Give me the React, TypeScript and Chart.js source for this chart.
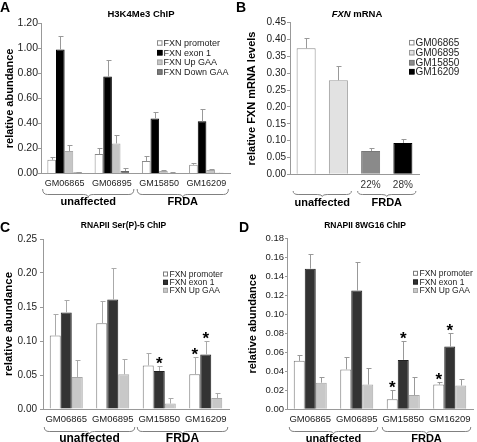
import React, { useEffect, useRef } from "react";
import { Chart, registerables } from "chart.js";
Chart.register(...registerables);

const FONT = "'Liberation Sans', Arial, Helvetica, sans-serif";

// ---------- shared categories ----------
const cellLines = ["GM06865", "GM06895", "GM15850", "GM16209"];
const groupNames = ["unaffected", "FRDA"];
const groupOfCell = [0, 0, 1, 1];

// ---------- Panel A: H3K4Me3 ChIP ----------
const aSeriesNames = ["FXN promoter", "FXN exon 1", "FXN Up GAA", "FXN Down GAA"];
const aPromoter = [0.11, 0.155, 0.1, 0.07];
const aPromoterErr = [0.024, 0.045, 0.04, 0.017];
const aExon1 = [0.99, 0.775, 0.44, 0.417];
const aExon1Err = [0.11, 0.13, 0.05, 0.1];
const aUpGAA = [0.18, 0.24, 0.02, 0.028];
const aUpGAAErr = [0.044, 0.07, 0.005, 0.006];
const aDownGAA = [0.01, 0.02, 0.006, 0.005];
const aDownGAAErr = [0.003, 0.023, 0.002, 0.002];

// ---------- Panel B: FXN mRNA ----------
const bMRNA = [0.374, 0.279, 0.069, 0.093];
const bMRNAErr = [0.032, 0.042, 0.009, 0.013];
const bPercent = ["", "", "22%", "28%"];

// ---------- Panel C: RNAPII Ser(P)-5 ChIP ----------
const cdSeriesNames = ["FXN promoter", "FXN exon 1", "FXN Up GAA"];
const cPromoter = [0.108, 0.126, 0.064, 0.051];
const cPromoterErr = [0.031, 0.033, 0.019, 0.026];
const cExon1 = [0.142, 0.161, 0.056, 0.08];
const cExon1Err = [0.019, 0.046, 0.007, 0.02];
const cUpGAA = [0.047, 0.051, 0.008, 0.016];
const cUpGAAErr = [0.025, 0.022, 0.008, 0.007];
const cPromoterSig = [false, false, false, true];
const cExon1Sig = [false, false, true, true];

// ---------- Panel D: RNAPII 8WG16 ChIP ----------
const dPromoter = [0.051, 0.042, 0.0105, 0.026];
const dPromoterErr = [0.006, 0.013, 0.0095, 0.003];
const dExon1 = [0.148, 0.125, 0.052, 0.066];
const dExon1Err = [0.0155, 0.03, 0.02, 0.014];
const dUpGAA = [0.028, 0.026, 0.015, 0.025];
const dUpGAAErr = [0.006, 0.018, 0.019, 0.007];
const dPromoterSig = [false, false, true, true];
const dExon1Sig = [false, false, true, true];

type Series = {
  label: string;
  values: number[];
  errors: number[];
  fill: string | string[];
  stroke: string | string[];
  sig?: boolean[];
};

type PanelSpec = {
  key: string;
  origin: [number, number];
  size: [number, number];
  area: { l: number; r: number; t: number; b: number };
  yMax: number;
  yStep: number;
  yTitle: string;
  yTitleX: number;
  yTitleSize: number;
  yTickSize: number;
  yTickLen: number;
  yTickPad: number;
  xTickSize: number;
  xTickPad: number;
  showXTicks: boolean;
  barPct: number;
  letter: { text: string; x: number; y: number };
  title: { parts: { text: string; italic?: boolean }[]; x: number; y: number; size: number };
  legend: { x: number; rows: number[]; box: number; size: number; textX: number; items: { label: string; fill: string; stroke: string }[] };
  errColor: string;
  braces: { yTop: number; yMid: number; yTip: number; labelY: number; labelSize: number; ext: number };
  series: Series[];
  sub?: { labels: string[]; y: number };
};

const WHITE = "#ffffff";
const colA = { fill: [WHITE, "#000000", "#c6c6c6", "#7c7c7c"], stroke: ["#8a8a8a", "#000000", "#a8a8a8", "#666666"] };
const colCD = { fill: [WHITE, "#333333", "#c8c8c8"], stroke: ["#7a7a7a", "#222222", "#a8a8a8"] };
const colB = { fill: [WHITE, "#e2e2e2", "#8a8a8a", "#000000"], stroke: ["#8a8a8a", "#9a9a9a", "#777777", "#000000"] };

const panels: PanelSpec[] = [
  {
    key: "A",
    origin: [0, 0],
    size: [236, 220],
    area: { l: 41, r: 230, t: 23.3, b: 173.5 },
    yMax: 1.2,
    yStep: 0.2,
    yTitle: "relative abundance",
    yTitleX: 9.5,
    yTitleSize: 11,
    yTickSize: 10.5,
    yTickLen: 3,
    yTickPad: 0,
    xTickSize: 9,
    xTickPad: 5,
    showXTicks: true,
    barPct: 0.73,
    letter: { text: "A", x: 0, y: 12 },
    title: { parts: [{ text: "H3K4Me3 ChIP" }], x: 141, y: 14, size: 9.5 },
    legend: {
      x: 157, rows: [43, 52.7, 62.3, 72], box: 5.5, size: 9, textX: 163.5,
      items: aSeriesNames.map((l, i) => ({ label: l, fill: colA.fill[i], stroke: colA.stroke[i] })),
    },
    errColor: "#999999",
    braces: { yTop: 189, yMid: 194.5, yTip: 197.5, labelY: 202, labelSize: 11, ext: 22 },
    series: [
      { label: aSeriesNames[0], values: aPromoter, errors: aPromoterErr, fill: colA.fill[0], stroke: colA.stroke[0] },
      { label: aSeriesNames[1], values: aExon1, errors: aExon1Err, fill: colA.fill[1], stroke: colA.stroke[1] },
      { label: aSeriesNames[2], values: aUpGAA, errors: aUpGAAErr, fill: colA.fill[2], stroke: colA.stroke[2] },
      { label: aSeriesNames[3], values: aDownGAA, errors: aDownGAAErr, fill: colA.fill[3], stroke: colA.stroke[3] },
    ],
  },
  {
    key: "B",
    origin: [232, 0],
    size: [245, 220],
    area: { l: 290, r: 419, t: 22.7, b: 174.3 },
    yMax: 0.45,
    yStep: 0.05,
    yTitle: "relative FXN mRNA levels",
    yTitleX: 252,
    yTitleSize: 11,
    yTickSize: 10,
    yTickLen: 3,
    yTickPad: 1,
    xTickSize: 9,
    xTickPad: 5,
    showXTicks: false,
    barPct: 0.59,
    letter: { text: "B", x: 236, y: 12 },
    title: { parts: [{ text: "FXN", italic: true }, { text: " mRNA" }], x: 357, y: 14, size: 9.5 },
    legend: {
      x: 409, rows: [42.7, 52.7, 62.7, 71.7], box: 5.5, size: 10, textX: 415.5,
      items: cellLines.map((l, i) => ({ label: l, fill: colB.fill[i], stroke: colB.stroke[i] })),
    },
    errColor: "#999999",
    braces: { yTop: 191, yMid: 194.5, yTip: 196.5, labelY: 203, labelSize: 11, ext: 13 },
    series: [{ label: "FXN mRNA", values: bMRNA, errors: bMRNAErr, fill: colB.fill, stroke: colB.stroke }],
    sub: { labels: bPercent, y: 185 },
  },
  {
    key: "C",
    origin: [0, 220],
    size: [236, 222],
    area: { l: 43, r: 229, t: 239, b: 409 },
    yMax: 0.25,
    yStep: 0.05,
    yTitle: "relative abundance",
    yTitleX: 9,
    yTitleSize: 11.5,
    yTickSize: 10,
    yTickLen: 3,
    yTickPad: 3,
    xTickSize: 9.5,
    xTickPad: 4.3,
    showXTicks: true,
    barPct: 0.71,
    letter: { text: "C", x: 0, y: 232 },
    title: { parts: [{ text: "RNAPII Ser(P)-5 ChIP" }], x: 123.5, y: 226, size: 8.5 },
    legend: {
      x: 163, rows: [274, 282.3, 290.3], box: 5, size: 8.5, textX: 169.5,
      items: cdSeriesNames.map((l, i) => ({ label: l, fill: colCD.fill[i], stroke: colCD.stroke[i] })),
    },
    errColor: "#aaaaaa",
    braces: { yTop: 427, yMid: 431.5, yTip: 434, labelY: 438.5, labelSize: 12, ext: 22 },
    series: [
      { label: cdSeriesNames[0], values: cPromoter, errors: cPromoterErr, fill: colCD.fill[0], stroke: colCD.stroke[0], sig: cPromoterSig },
      { label: cdSeriesNames[1], values: cExon1, errors: cExon1Err, fill: colCD.fill[1], stroke: colCD.stroke[1], sig: cExon1Sig },
      { label: cdSeriesNames[2], values: cUpGAA, errors: cUpGAAErr, fill: colCD.fill[2], stroke: colCD.stroke[2] },
    ],
  },
  {
    key: "D",
    origin: [232, 220],
    size: [245, 222],
    area: { l: 287, r: 473, t: 238.3, b: 409.3 },
    yMax: 0.18,
    yStep: 0.02,
    yTitle: "relative abundance",
    yTitleX: 252.5,
    yTitleSize: 11,
    yTickSize: 9.5,
    yTickLen: 2,
    yTickPad: 1,
    xTickSize: 9.5,
    xTickPad: 4.3,
    showXTicks: true,
    barPct: 0.71,
    letter: { text: "D", x: 239, y: 232 },
    title: { parts: [{ text: "RNAPII 8WG16 ChIP" }], x: 365, y: 226, size: 8.5 },
    legend: {
      x: 413, rows: [273.3, 282, 290.5], box: 5, size: 8.5, textX: 419.5,
      items: cdSeriesNames.map((l, i) => ({ label: l, fill: colCD.fill[i], stroke: colCD.stroke[i] })),
    },
    errColor: "#999999",
    braces: { yTop: 427, yMid: 431.5, yTip: 434, labelY: 438.5, labelSize: 11, ext: 21 },
    series: [
      { label: cdSeriesNames[0], values: dPromoter, errors: dPromoterErr, fill: colCD.fill[0], stroke: colCD.stroke[0], sig: dPromoterSig },
      { label: cdSeriesNames[1], values: dExon1, errors: dExon1Err, fill: colCD.fill[1], stroke: colCD.stroke[1], sig: dExon1Sig },
      { label: cdSeriesNames[2], values: dUpGAA, errors: dUpGAAErr, fill: colCD.fill[2], stroke: colCD.stroke[2] },
    ],
  },
];

function font(size: number, bold = false, italic = false) {
  return `${italic ? "italic " : ""}${bold ? "bold " : ""}${size}px ${FONT}`;
}

function drawBrace(ctx: CanvasRenderingContext2D, x0: number, x1: number, yTop: number, yMid: number, yTip: number) {
  const r = 5;
  const xc = (x0 + x1) / 2;
  ctx.beginPath();
  ctx.moveTo(x0, yTop);
  ctx.quadraticCurveTo(x0, yMid, x0 + r, yMid);
  ctx.lineTo(xc - r, yMid);
  ctx.quadraticCurveTo(xc, yMid, xc, yTip);
  ctx.quadraticCurveTo(xc, yMid, xc + r, yMid);
  ctx.lineTo(x1 - r, yMid);
  ctx.quadraticCurveTo(x1, yMid, x1, yTop);
  ctx.stroke();
}

function makePlugin(spec: PanelSpec) {
  const [ox, oy] = spec.origin;
  return {
    id: "decor" + spec.key,
    afterDatasetsDraw(chart: any) {
      const ctx: CanvasRenderingContext2D = chart.ctx;
      const ys = chart.scales.y;
      ctx.save();
      spec.series.forEach((s, d) => {
        const meta = chart.getDatasetMeta(d);
        s.values.forEach((v, i) => {
          const el = meta.data[i];
          if (!el) return;
          const x = Math.round(el.x) + 0.5;
          const yTop = Math.round(ys.getPixelForValue(v + s.errors[i])) + 0.5;
          ctx.strokeStyle = spec.errColor;
          ctx.lineWidth = 1;
          ctx.beginPath();
          ctx.moveTo(x, el.y);
          ctx.lineTo(x, yTop);
          ctx.moveTo(x - 2, yTop);
          ctx.lineTo(x + 3, yTop);
          ctx.stroke();
          if (s.sig && s.sig[i]) {
            ctx.fillStyle = "#000";
            ctx.font = font(17, true);
            ctx.textAlign = "center";
            ctx.textBaseline = "alphabetic";
            ctx.fillText("*", el.x, yTop - 7 + 9.8);
          }
        });
      });
      ctx.restore();
    },
    afterDraw(chart: any) {
      const ctx: CanvasRenderingContext2D = chart.ctx;
      const xs = chart.scales.x;
      ctx.save();
      ctx.translate(-ox, -oy);
      // panel letter
      ctx.fillStyle = "#000";
      ctx.font = font(14, true);
      ctx.textAlign = "left";
      ctx.textBaseline = "alphabetic";
      ctx.fillText(spec.letter.text, spec.letter.x, spec.letter.y);
      // title
      const t = spec.title;
      let total = 0;
      const widths = t.parts.map((p) => {
        ctx.font = font(t.size, true, !!p.italic);
        const w = ctx.measureText(p.text).width;
        total += w;
        return w;
      });
      let tx = t.x - total / 2;
      ctx.textBaseline = "middle";
      t.parts.forEach((p, i) => {
        ctx.font = font(t.size, true, !!p.italic);
        ctx.fillText(p.text, tx, t.y);
        tx += widths[i];
      });
      // legend
      const lg = spec.legend;
      lg.items.forEach((it, i) => {
        const yc = lg.rows[i];
        ctx.fillStyle = it.fill;
        ctx.fillRect(lg.x, yc - lg.box / 2, lg.box, lg.box);
        ctx.strokeStyle = it.stroke;
        ctx.lineWidth = 1;
        ctx.strokeRect(lg.x + 0.5, yc - lg.box / 2 + 0.5, lg.box - 1, lg.box - 1);
        ctx.fillStyle = "#222";
        ctx.font = font(lg.size);
        ctx.textAlign = "left";
        ctx.textBaseline = "middle";
        ctx.fillText(it.label, lg.textX, yc + 0.5);
      });
      const centers = cellLines.map((_, i) => xs.getPixelForValue(i) + ox);
      // sub labels (percentages)
      if (spec.sub) {
        ctx.fillStyle = "#333";
        ctx.font = font(10);
        ctx.textAlign = "center";
        ctx.textBaseline = "middle";
        spec.sub.labels.forEach((s, i) => {
          if (s) ctx.fillText(s, centers[i], spec.sub!.y);
        });
      }
      // braces + group labels
      const br = spec.braces;
      groupNames.forEach((g, gi) => {
        const idx = groupOfCell.map((v, i) => (v === gi ? i : -1)).filter((i) => i >= 0);
        const x0 = centers[idx[0]] - br.ext;
        const x1 = centers[idx[idx.length - 1]] + br.ext;
        ctx.strokeStyle = "#808080";
        ctx.lineWidth = 1;
        drawBrace(ctx, x0, x1, br.yTop, br.yMid, br.yTip);
        ctx.fillStyle = "#000";
        ctx.font = font(br.labelSize, true);
        ctx.textAlign = "center";
        ctx.textBaseline = "middle";
        ctx.fillText(g, (x0 + x1) / 2, br.labelY);
      });
      ctx.restore();
    },
  };
}

function buildConfig(spec: PanelSpec): any {
  const [ox, oy] = spec.origin;
  const [W, H] = spec.size;
  const a = spec.area;
  const datasets = spec.series.map((s) => ({
    label: s.label,
    data: s.values,
    backgroundColor: s.fill,
    borderColor: s.stroke,
    borderWidth: 1,
    borderSkipped: "bottom",
    categoryPercentage: spec.barPct,
    barPercentage: 1,
  }));
  return {
    type: "bar",
    data: { labels: cellLines, datasets },
    options: {
      responsive: false,
      animation: false,
      devicePixelRatio: 1,
      layout: { padding: { top: a.t - oy, right: ox + W - a.r, left: 0, bottom: 0 } },
      plugins: { legend: { display: false }, tooltip: { enabled: false }, title: { display: false } },
      scales: {
        x: {
          type: "category",
          ticks: {
            display: spec.showXTicks,
            font: { family: FONT, size: spec.xTickSize },
            color: "#222",
            padding: spec.xTickPad,
            maxRotation: 0,
            autoSkip: false,
          },
          grid: { display: false, drawTicks: false },
          border: { display: true, color: "#999" },
          afterFit: (s: any) => {
            s.height = oy + H - a.b;
          },
        },
        y: {
          min: 0,
          max: spec.yMax,
          ticks: {
            stepSize: spec.yStep,
            font: { family: FONT, size: spec.yTickSize },
            color: "#222",
            padding: spec.yTickPad,
            callback: (v: any) => Number(v).toFixed(2),
          },
          grid: { display: true, drawOnChartArea: false, drawTicks: true, tickLength: spec.yTickLen, color: "#999" },
          border: { display: true, color: "#999" },
          title: {
            display: true,
            text: spec.yTitle,
            color: "#000",
            font: { family: FONT, size: spec.yTitleSize, weight: "bold" },
            padding: { top: spec.yTitleX - ox - (spec.yTitleSize * 1.2) / 2, bottom: 0 },
          },
          afterFit: (s: any) => {
            s.width = a.l - ox;
          },
        },
      },
    },
    plugins: [makePlugin(spec)],
  };
}

function Panel({ spec }: { spec: PanelSpec }) {
  const ref = useRef<HTMLCanvasElement | null>(null);
  useEffect(() => {
    if (!ref.current) return;
    const chart = new Chart(ref.current, buildConfig(spec));
    return () => chart.destroy();
  }, [spec]);
  return (
    <canvas
      ref={ref}
      width={spec.size[0]}
      height={spec.size[1]}
      style={{ position: "absolute", left: spec.origin[0], top: spec.origin[1], width: spec.size[0], height: spec.size[1] }}
    />
  );
}

export default function App() {
  return (
    <div style={{ position: "fixed", left: 0, top: 0, width: 477, height: 442, background: "#fff", overflow: "hidden" }}>
      {panels.map((p) => (
        <Panel key={p.key} spec={p} />
      ))}
    </div>
  );
}
